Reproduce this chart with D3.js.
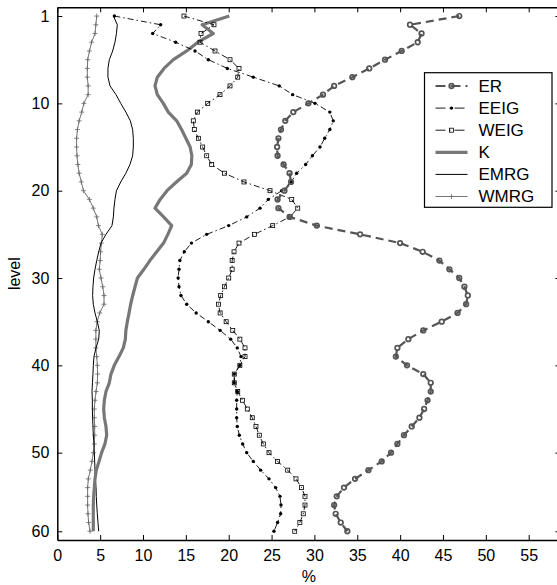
<!DOCTYPE html>
<html>
<head>
<meta charset="utf-8">
<script src="https://cdn.jsdelivr.net/npm/d3@7"></script>
<style>
  html, body { margin: 0; padding: 0; background: #fff; }
  svg { display: block; font-family: "Liberation Sans", Arial, Helvetica, sans-serif; }
</style>
</head>
<body>
<svg id="chart" width="557" height="585"></svg>
<script>
// Model levels 1..60
const levels = d3.range(1, 61);

// Percentage per level for each scheme
const ER = [46.9, 41.15, 42.5, 42.05, 40.18, 38.24, 36.4, 34.43, 32.3, 31.0,
            29.3, 27.54, 26.6, 26.1, 25.8, 25.65, 25.7, 26.4, 27.1, 27.27,
            26.5, 25.7, 25.8, 27.1, 30.27, 35.33, 40.0, 42.63, 44.58, 45.75,
            46.9, 47.5, 47.9, 47.7, 46.7, 44.85, 42.7, 40.96, 39.68, 39.5,
            40.8, 42.7, 43.57, 43.57, 43.2, 42.8, 42.25, 41.35, 40.45, 39.68,
            38.94, 37.85, 36.3, 34.74, 33.45, 32.6, 32.3, 32.48, 33.07, 33.84];

const EEIG = [6.66, 12.06, 11.13, 13.81, 16.07, 17.62, 19.84, 22.87, 25.9, 27.46,
              30.07, 31.8, 32.2, 31.8, 31.2, 30.65, 29.76, 28.98, 27.93, 27.3,
              26.18, 24.62, 23.65, 22.1, 20.0, 17.43, 15.65, 14.82, 14.3, 14.2,
              14.1, 14.2, 14.43, 15.1, 16.2, 17.62, 19.0, 20.23, 21.0, 21.43,
              21.3, 20.65, 20.65, 21.0, 20.93, 20.93, 20.93, 21.0, 21.24, 21.63,
              22.1, 22.87, 23.73, 24.7, 25.48, 25.98, 26.1, 26.06, 25.7, 25.28];

const WEIG = [14.78, 18.28, 16.77, 16.65, 18.4, 20.15, 21.2, 21.05, 20.15, 18.98,
              17.55, 16.34, 15.87, 15.99, 16.46, 16.96, 17.43, 18.01, 19.5, 21.78,
              24.82, 27.35, 28.05, 27.15, 25.13, 22.99, 21.2, 20.62, 20.4, 20.4,
              20.0, 19.5, 19.06, 18.8, 19.0, 19.7, 20.47, 21.3, 21.9, 21.9,
              21.3, 20.65, 20.65, 21.05, 21.6, 22.17, 22.75, 23.18, 23.57, 24.04,
              24.7, 25.7, 26.88, 27.85, 28.5, 28.9, 28.9, 28.7, 28.3, 27.7];

const K = [20.07, 16.9, 18.2, 16.4, 15.1, 13.54, 12.45, 11.67, 11.4, 11.67,
           12.37, 12.95, 13.93, 14.5, 15.0, 15.5, 15.7, 15.64, 15.1, 13.9,
           12.8, 12.0, 11.4, 12.4, 13.35, 12.9, 12.4, 11.6, 10.8, 10.1,
           9.35, 9.07, 8.8, 8.56, 8.37, 8.17, 8.0, 7.94, 7.7, 7.2,
           6.65, 6.26, 6.07, 5.68, 5.49, 5.41, 5.49, 5.68, 5.76, 5.56,
           5.17, 4.87, 4.55, 4.4, 4.32, 4.24, 4.2, 4.2, 4.2, 4.2];

const EMRG = [6.55, 7.0, 6.9, 6.73, 6.46, 6.07, 5.91, 5.91, 6.15, 6.85,
              7.4, 8.0, 8.52, 8.79, 8.87, 8.87, 8.79, 8.48, 8.0, 7.4,
              6.9, 6.73, 6.61, 6.54, 6.38, 5.68, 5.1, 4.83, 4.6, 4.4,
              4.24, 4.16, 4.12, 4.2, 4.4, 4.67, 4.9, 4.83, 4.52, 4.28,
              4.2, 4.16, 4.1, 4.05, 4.09, 4.09, 4.12, 4.16, 4.2, 4.28,
              4.32, 4.36, 4.4, 4.44, 4.52, 4.55, 4.6, 4.67, 4.75, 4.83];

const WMRG = [4.6, 4.5, 4.4, 4.0, 3.75, 3.55, 3.5, 3.5, 3.6, 3.6,
              3.1, 2.85, 2.55, 2.35, 2.25, 2.25, 2.3, 2.4, 2.55, 2.8,
              3.05, 3.75, 4.2, 4.6, 4.8, 5.25, 5.15, 5.05, 5.0, 4.9,
              5.1, 5.3, 5.45, 5.45, 4.95, 4.65, 4.5, 4.5, 4.5, 4.6,
              4.67, 4.7, 4.67, 4.52, 4.4, 4.32, 4.32, 4.36, 4.36, 4.32,
              4.2, 4.05, 3.85, 3.62, 3.54, 3.54, 3.54, 3.58, 3.66, 3.82];

// Axis ticks
const xTicks = [0, 5, 10, 15, 20, 25, 30, 35, 40, 45, 50, 55];
const yTickLevels = [1, 11, 21, 31, 41, 51, 60];
const yTickLabels = ["1", "10", "20", "30", "40", "50", "60"];

const seriesNames = ["ER", "EEIG", "WEIG", "K", "EMRG", "WMRG"];
const seriesValues = [ER, EEIG, WEIG, K, EMRG, WMRG];

// Styling per scheme
const styles = {
  ER:   { color: "#555", width: 2.2, dash: "8,5", marker: "circle" },
  EEIG: { color: "#000", width: 0.9, dash: "6,3,1.5,3", marker: "dot" },
  WEIG: { color: "#000", width: 0.9, dash: "6,3,1.5,3", marker: "square" },
  K:    { color: "#777", width: 3.2, dash: null, marker: null },
  EMRG: { color: "#000", width: 1.0, dash: null, marker: null },
  WMRG: { color: "#666", width: 0.9, dash: null, marker: "plus" }
};

const svg = d3.select("#chart");

const x = d3.scaleLinear().domain([0, 58.7]).range([57.3, 560.4]);
const y = d3.scaleLinear().domain([0, 61]).range([7.3, 540]);

const plot = svg.append("g");

// Clip region matching the axes box
svg.append("defs").append("clipPath").attr("id", "clip")
  .append("rect").attr("x", x.range()[0]).attr("y", y.range()[0])
  .attr("width", x.range()[1] - x.range()[0]).attr("height", y.range()[1] - y.range()[0]);

const lineGen = d3.line().x(d => x(d[0])).y(d => y(d[1]));

function drawMarker(g, kind, cx, cy, st) {
  if (kind === "circle") {
    g.append("circle").attr("cx", cx).attr("cy", cy).attr("r", 2.3)
      .attr("fill", "none").attr("stroke", st.color).attr("stroke-width", 1.7);
  } else if (kind === "dot") {
    g.append("circle").attr("cx", cx).attr("cy", cy).attr("r", 1.7)
      .attr("fill", st.color);
  } else if (kind === "square") {
    g.append("rect").attr("x", cx - 2).attr("y", cy - 2)
      .attr("width", 4).attr("height", 4)
      .attr("fill", "none").attr("stroke", st.color).attr("stroke-width", 0.8);
  } else if (kind === "plus") {
    g.append("path").attr("d", `M${cx - 2.5},${cy}H${cx + 2.5}M${cx},${cy - 2.5}V${cy + 2.5}`)
      .attr("stroke", st.color).attr("stroke-width", 0.8).attr("fill", "none");
  }
}

const series = plot.append("g").attr("clip-path", "url(#clip)");

// Draw in reverse legend order so ER sits on top
seriesNames.slice().reverse().forEach(name => {
  const vals = seriesValues[seriesNames.indexOf(name)];
  const st = styles[name];
  const pts = vals.map((v, i) => [v, levels[i]]);
  const g = series.append("g").attr("class", "series-" + name);
  g.append("path").attr("d", lineGen(pts))
    .attr("fill", "none").attr("stroke", st.color)
    .attr("stroke-width", st.width)
    .attr("stroke-linejoin", "round")
    .attr("stroke-dasharray", st.dash);
  if (st.marker) pts.forEach(p => drawMarker(g, st.marker, x(p[0]), y(p[1]), st));
});

// Axes with inward ticks
const axisStyle = g => {
  g.selectAll(".domain").attr("stroke", "#000").attr("stroke-width", 1.5);
  g.selectAll(".tick line").attr("stroke", "#000").attr("stroke-width", 1);
  g.selectAll(".tick text").attr("fill", "#000").attr("font-size", 16)
    .attr("font-family", "Liberation Sans, Arial, sans-serif");
};

svg.append("g").attr("transform", `translate(0,${y.range()[1]})`)
  .call(d3.axisBottom(x).tickValues(xTicks).tickSize(-5).tickSizeOuter(0).tickPadding(10).tickFormat(d3.format("d")))
  .call(axisStyle);

svg.append("g").attr("transform", `translate(0,${y.range()[0]})`)
  .call(d3.axisTop(x).tickValues(xTicks).tickSize(-5).tickSizeOuter(0).tickFormat(""))
  .call(axisStyle);

svg.append("g").attr("transform", `translate(${x.range()[0]},0)`)
  .call(d3.axisLeft(y).tickValues(yTickLevels).tickSize(-5).tickSizeOuter(0).tickPadding(8)
    .tickFormat((d, i) => yTickLabels[i]))
  .call(axisStyle);

svg.append("g").attr("transform", `translate(${x.range()[1]},0)`)
  .call(d3.axisRight(y).tickValues(yTickLevels).tickSize(-5).tickSizeOuter(0).tickFormat(""))
  .call(axisStyle);

// Axis labels
svg.append("text").attr("x", (x.range()[0] + x.range()[1]) / 2).attr("y", 582)
  .attr("text-anchor", "middle").attr("font-size", 16).text("%");

svg.append("text").attr("transform", `translate(20,${(y.range()[0] + y.range()[1]) / 2}) rotate(-90)`)
  .attr("text-anchor", "middle").attr("font-size", 16).text("level");

// Legend
const legend = svg.append("g").attr("transform", "translate(424.5,72.7)");
legend.append("rect").attr("width", 127.5).attr("height", 134.6)
  .attr("fill", "#fff").attr("stroke", "#000").attr("stroke-width", 1.2);

seriesNames.forEach((name, i) => {
  const st = styles[name];
  const ly = 13.3 + i * 22.1;
  const item = legend.append("g");
  item.append("path").attr("d", `M11,${ly}H43`)
    .attr("stroke", st.color).attr("stroke-width", st.width)
    .attr("stroke-dasharray", name === "ER" ? "10,5" : (st.dash ? "10,4,1,4" : null))
    .attr("fill", "none");
  if (st.marker) drawMarker(item, st.marker, 27, ly, st);
  item.append("text").attr("x", 54).attr("y", ly + 6)
    .attr("font-size", 17).attr("fill", "#000").text(name);
});
</script>
</body>
</html>
